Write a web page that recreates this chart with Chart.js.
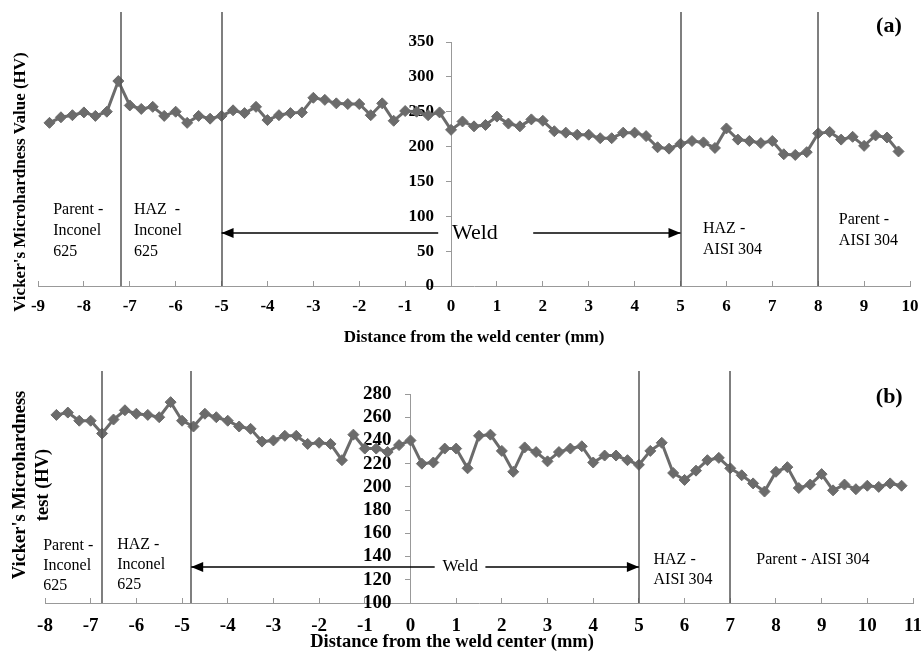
<!DOCTYPE html>
<html>
<head>
<meta charset="utf-8">
<script src="https://cdn.jsdelivr.net/npm/chart.js@4.4.0/dist/chart.umd.min.js"></script>
<style>
  body { margin: 0; background: #fff; }
  .box { position: absolute; left: 0; width: 923px; }
</style>
</head>
<body>
<div class="box" style="top:0;height:350px"><canvas id="chart-a"></canvas></div>
<div class="box" style="top:345px;height:308px"><canvas id="chart-b"></canvas></div>
<script>
// (a) distance from weld center (mm) and hardness (HV)
var distA = [-8.75, -8.5, -8.25, -8, -7.75, -7.5, -7.25, -7, -6.75, -6.5, -6.25, -6, -5.75, -5.5, -5.25, -5,
  -4.75, -4.5, -4.25, -4, -3.75, -3.5, -3.25, -3, -2.75, -2.5, -2.25, -2, -1.75, -1.5, -1.25, -1, -0.75, -0.5, -0.25,
  0, 0.25, 0.5, 0.75, 1, 1.25, 1.5, 1.75, 2, 2.25, 2.5, 2.75, 3, 3.25, 3.5, 3.75, 4, 4.25, 4.5, 4.75, 5,
  5.25, 5.5, 5.75, 6, 6.25, 6.5, 6.75, 7, 7.25, 7.5, 7.75, 8, 8.25, 8.5, 8.75, 9, 9.25, 9.5, 9.75];
var hvA = [234, 242, 245, 249, 244, 250, 294, 259, 254, 257, 244, 250, 234, 244, 240, 244,
  252, 248, 257, 238, 245, 248, 249, 270, 267, 262, 261, 261, 245, 262, 237, 251, 250, 245, 249,
  224, 236, 229, 231, 243, 233, 229, 239, 237, 222, 220, 217, 217, 212, 212, 220, 220, 215, 199, 197, 204,
  208, 206, 198, 226, 210, 208, 205, 208, 189, 188, 192, 219, 221, 210, 214, 201, 216, 213, 193];
var zonesA = [-7.2, -5, 5, 8];

// (b)
var distB = [-7.75, -7.5, -7.25, -7, -6.75, -6.5, -6.25, -6, -5.75, -5.5, -5.25, -5, -4.75, -4.5, -4.25, -4,
  -3.75, -3.5, -3.25, -3, -2.75, -2.5, -2.25, -2, -1.75, -1.5, -1.25, -1, -0.75, -0.5, -0.25,
  0, 0.25, 0.5, 0.75, 1, 1.25, 1.5, 1.75, 2, 2.25, 2.5, 2.75, 3, 3.25, 3.5, 3.75, 4, 4.25, 4.5, 4.75, 5,
  5.25, 5.5, 5.75, 6, 6.25, 6.5, 6.75, 7, 7.25, 7.5, 7.75, 8, 8.25, 8.5, 8.75, 9, 9.25, 9.5, 9.75,
  10, 10.25, 10.5, 10.75];
var hvB = [262, 264, 257, 257, 246, 258, 266, 263, 262, 260, 273, 257, 252, 263, 260, 257,
  252, 250, 239, 240, 244, 244, 237, 238, 237, 223, 245, 233, 233, 230, 236,
  240, 220, 221, 233, 233, 216, 244, 245, 231, 213, 234, 230, 222, 230, 233, 235, 221, 227, 227, 223, 219,
  231, 238, 212, 206, 214, 223, 225, 216, 210, 203, 196, 213, 217, 199, 202, 211, 197, 202, 198,
  201, 200, 203, 201];
var zonesB = [-6.75, -4.8, 5, 7];

var serif = 'Liberation Serif, Times New Roman, serif';
var gray = '#6b6b6b';

function toPoints(xs, ys) {
  return xs.map(function(v, i) { return {x: v, y: ys[i]}; });
}

function arrow(ctx, x1, x2, y, headAt) {
  ctx.beginPath(); ctx.moveTo(x1, y); ctx.lineTo(x2, y); ctx.stroke();
  var hx = headAt === 'left' ? x1 : x2, d = headAt === 'left' ? 1 : -1;
  ctx.beginPath();
  ctx.moveTo(hx, y);
  ctx.lineTo(hx + d * 12, y - 5);
  ctx.lineTo(hx + d * 12, y + 5);
  ctx.closePath(); ctx.fill();
}

var annotate = {
  id: 'annotate',
  afterDraw: function(chart) {
    var o = chart.options.plugins.annotate;
    var ctx = chart.ctx, sx = chart.scales.x, sy = chart.scales.y, area = chart.chartArea;
    ctx.save();
    ctx.strokeStyle = '#555'; ctx.lineWidth = 1.5;
    o.zones.forEach(function(v) {
      var px = Math.round(sx.getPixelForValue(v));
      ctx.beginPath(); ctx.moveTo(px, o.lineTop); ctx.lineTo(px, area.bottom); ctx.stroke();
    });
    ctx.fillStyle = '#000'; ctx.strokeStyle = '#000'; ctx.lineWidth = 1.5;
    var ay = sy.getPixelForValue(o.arrowY);
    arrow(ctx, sx.getPixelForValue(o.arrowL[0]), sx.getPixelForValue(o.arrowL[1]), ay, 'left');
    arrow(ctx, sx.getPixelForValue(o.arrowR[0]), sx.getPixelForValue(o.arrowR[1]), ay, 'right');
    ctx.textBaseline = 'middle'; ctx.textAlign = 'left';
    ctx.font = o.weldSize + 'px ' + serif;
    ctx.fillText('Weld', sx.getPixelForValue(o.weldX), ay);
    ctx.font = '16px ' + serif;
    o.labels.forEach(function(l) {
      var px = sx.getPixelForValue(l.x), py = sy.getPixelForValue(l.y);
      l.text.forEach(function(t, i) { ctx.fillText(t, px, py + i * o.lineGap); });
    });
    ctx.font = 'bold 22px ' + serif; ctx.textAlign = 'center';
    ctx.fillText(o.tag, sx.getPixelForValue(o.tagPos[0]), sy.getPixelForValue(o.tagPos[1]));
    // axis titles
    ctx.font = 'bold ' + o.titleSize + 'px ' + serif;
    ctx.fillText('Distance from the weld center (mm)', o.xTitle[0], o.xTitle[1]);
    ctx.translate(o.yTitle[0], o.yTitle[1]);
    ctx.rotate(-Math.PI / 2);
    o.yTitleText.forEach(function(t, i) { ctx.fillText(t, 0, i * 23); });
    ctx.restore();
  }
};

function buildChart(id, d) {
  return new Chart(document.getElementById(id), {
    type: 'line',
    data: {
      datasets: [{
        data: toPoints(d.xs, d.ys),
        borderColor: gray, backgroundColor: gray, borderWidth: 3,
        pointStyle: 'rectRot', pointRadius: 5.5, pointBorderWidth: 1, tension: 0
      }]
    },
    options: {
      responsive: true, maintainAspectRatio: false, animation: false,
      layout: {padding: d.padding},
      plugins: {legend: {display: false}, tooltip: {enabled: false}, annotate: d.annotate},
      scales: {
        x: {
          type: 'linear', min: d.xMin, max: d.xMax,
          // padding 0 so the labels do not eat the side margins; line height sets the drop
          ticks: {stepSize: 1, color: '#000', padding: 0, maxRotation: 0,
            font: {family: serif, size: d.tickSize, weight: 'bold', lineHeight: d.tickDrop / d.tickSize}},
          grid: {drawOnChartArea: false, tickLength: -5, color: '#999'},
          border: {color: '#999', width: 1},
          afterFit: function(s) { s.height = d.xHeight; }
        },
        y: {
          position: {x: 0}, min: d.yMin, max: d.yMax,
          ticks: {stepSize: d.yStep, color: '#000', autoSkip: false,
            font: {family: serif, size: d.tickSize, weight: 'bold'},
            callback: function(v) { return v + '    '; }},
          grid: {drawOnChartArea: false, tickLength: 5, color: '#999'},
          border: {color: '#999', width: 1}
        }
      }
    },
    plugins: [annotate]
  });
}

buildChart('chart-a', {
  xs: distA, ys: hvA, xMin: -9, xMax: 10, yMin: 0, yMax: 350, yStep: 50,
  padding: {left: 38, right: 13, top: 42, bottom: 0}, xHeight: 64, tickSize: 17, tickDrop: 52,
  annotate: {
    zones: zonesA, lineTop: 12, arrowY: 76, arrowL: [-5, -0.28], arrowR: [1.79, 5],
    weldX: 0.02, weldSize: 22, lineGap: 21,
    labels: [
      {x: -8.67, y: 110, text: ['Parent -', 'Inconel', '625']},
      {x: -6.91, y: 110, text: ['HAZ  -', 'Inconel', '625']},
      {x: 5.49, y: 82, text: ['HAZ -', 'AISI 304']},
      {x: 8.45, y: 95, text: ['Parent -', 'AISI 304']}
    ],
    tag: '(a)', tagPos: [9.54, 372],
    titleSize: 17, xTitle: [474, 338], yTitle: [21, 182], yTitleText: ["Vicker's Microhardness Value (HV)"]
  }
});

buildChart('chart-b', {
  xs: distB, ys: hvB, xMin: -8, xMax: 11, yMin: 100, yMax: 280, yStep: 20,
  padding: {left: 45, right: 10, top: 49, bottom: 0}, xHeight: 50, tickSize: 19, tickDrop: 56,
  annotate: {
    zones: zonesB, lineTop: 26, arrowY: 131, arrowL: [-4.8, 0.53], arrowR: [1.64, 5],
    weldX: 0.7, weldSize: 17, lineGap: 20,
    labels: [
      {x: -8.04, y: 149, text: ['Parent -', 'Inconel', '625']},
      {x: -6.42, y: 150, text: ['HAZ -', 'Inconel', '625']},
      {x: 5.32, y: 137, text: ['HAZ -', 'AISI 304']},
      {x: 7.57, y: 137, text: ['Parent - AISI 304']}
    ],
    tag: '(b)', tagPos: [10.48, 277],
    titleSize: 18.5, xTitle: [452, 297], yTitle: [20, 140], yTitleText: ["Vicker's Microhardness", 'test (HV)']
  }
});
</script>
</body>
</html>
